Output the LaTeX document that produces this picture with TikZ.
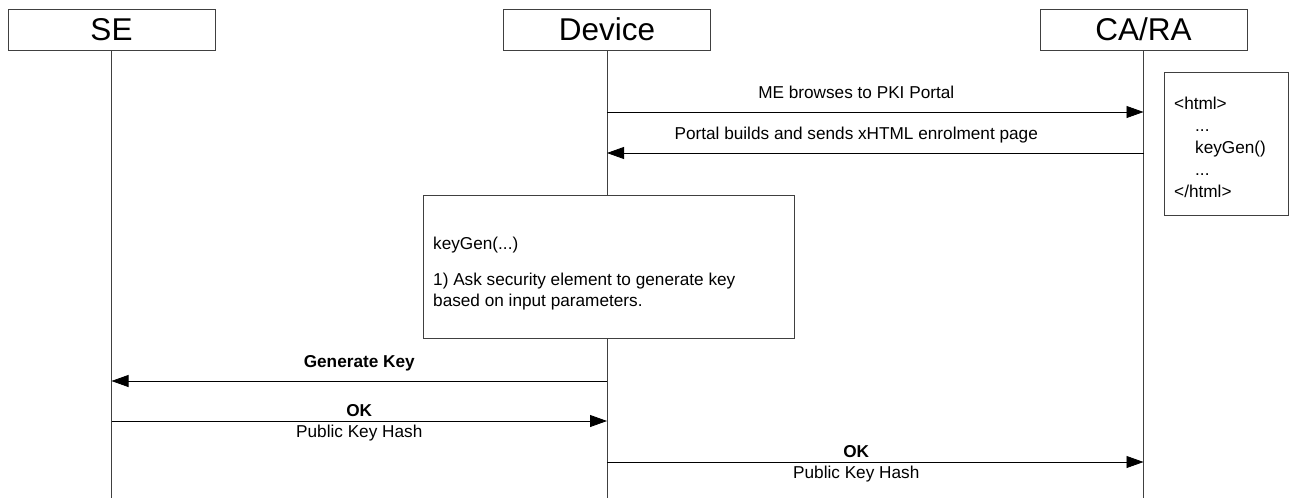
\documentclass[tikz,border=0pt]{standalone}
\usepackage{fontspec}
\setmainfont{Liberation Sans}
\usetikzlibrary{arrows.meta,positioning,calc}

\newcommand{\msgfont}{\fontsize{17.2}{21}\selectfont}
\newcommand{\headfont}{\fontsize{31.5}{32}\selectfont}

\begin{document}
\begin{tikzpicture}[x=1pt, y=-1pt,
  actor/.style={draw=black!75, line width=0.8pt, minimum width=207pt, minimum height=41pt, inner sep=0pt, font=\headfont},
  lifeline/.style={draw=black!75, line width=0.8pt},
  msg/.style={line width=0.8pt, -{Triangle[length=17pt,width=12pt]}},
  note/.style={draw=black!75, line width=0.8pt, fill=white, anchor=north west},
  notetext/.style={align=left, font=\msgfont, inner sep=0pt, anchor=base west},
  lbl/.style={anchor=base, yshift=14pt, font=\msgfont},
  oklbl/.style={anchor=base, yshift=5pt, font=\msgfont\bfseries},
  hashlbl/.style={anchor=base, yshift=-16pt, font=\msgfont}]

  \useasboundingbox (0,0) rectangle (1291,501);

  % Actors
  \node[actor] (se) at (111.5,29.5) {SE};
  \node[actor] (dev) at (607,29.5) {Device};
  \node[actor] (ca) at (1143.5,29.5) {CA/RA};

  % Lifelines
  \coordinate (se-end) at (se.south |- 0,498);
  \coordinate (dev-end) at (dev.south |- 0,498);
  \coordinate (ca-end) at (ca.south |- 0,498);
  \draw[lifeline] (se) -- (se-end);
  \draw[lifeline] (dev) -- (dev-end);
  \draw[lifeline] (ca) -- (ca-end);

  % Notes
  \node[note, minimum width=371pt, minimum height=143pt] (keygen) at (423,195) {};
  \node[notetext] (keygen-text) at ($(keygen.north west)+(10,111)$) {
    keyGen(...)\\[15pt]
    1) Ask security element to generate key\\
    based on input parameters.
  };
  \node[note, minimum width=124pt, minimum height=143pt] (html) at (1164,72) {};
  \node[notetext, font=\fontsize{17.2}{22}\selectfont] (html-text) at ($(html.north west)+(10,125)$) {
    <html>\\
    \hspace*{21pt}...\\
    \hspace*{21pt}keyGen()\\
    \hspace*{21pt}...\\
    </html>
  };

  % Message rows
  \coordinate (dev1) at (dev |- 0,112);
  \coordinate (ca1) at (ca |- 0,112);
  \coordinate (dev2) at (dev |- 0,153);
  \coordinate (ca2) at (ca |- 0,153);
  \coordinate (dev3) at (dev |- 0,381);
  \coordinate (se3) at (se |- 0,381);
  \coordinate (se4) at (se |- 0,421);
  \coordinate (dev4) at (dev |- 0,421);
  \coordinate (dev5) at (dev |- 0,462);
  \coordinate (ca5) at (ca |- 0,462);

  % Messages
  \draw[msg] (dev1) -- (ca1) node[midway, lbl, xshift=-19pt] {ME browses to PKI Portal};
  \draw[msg] (ca2) -- (dev2) node[midway, lbl, xshift=-19pt] {Portal builds and sends xHTML enrolment page};
  \draw[msg] (dev3) -- (se3) node[midway, lbl, font=\msgfont\bfseries] {Generate Key};
  \draw[msg] (se4) -- (dev4)
    node[midway, oklbl] {OK}
    node[midway, hashlbl] {Public Key Hash};
  \draw[msg] (dev5) -- (ca5)
    node[midway, oklbl, xshift=-19pt] {OK}
    node[midway, hashlbl, xshift=-19pt] {Public Key Hash};
\end{tikzpicture}
\end{document}
